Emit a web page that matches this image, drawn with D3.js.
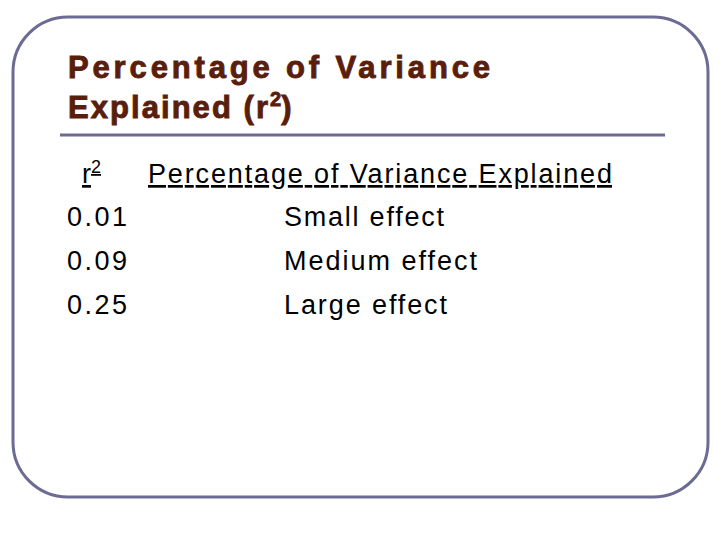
<!DOCTYPE html><html><head><meta charset="utf-8"><script src="https://cdn.jsdelivr.net/npm/d3@7"></script>
<style>body{margin:0;background:#fff}</style></head><body><script>
const values=["0.01","0.09","0.25"];
const labels=["Small effect","Medium effect","Large effect"];
const titleLines=["Percentage of Variance","Explained (r"];
const svg=d3.select("body").append("svg").attr("width",720).attr("height",540);
const ff="'Liberation Sans',Arial,sans-serif";
svg.append("rect").attr("x",13).attr("y",17).attr("width",695).attr("height",480).attr("rx",55).attr("ry",55)
 .attr("fill","none").attr("stroke","#6b6b93").attr("stroke-width",3);
svg.append("line").attr("x1",60).attr("x2",665).attr("y1",135).attr("y2",135).attr("stroke","#6b6b93").attr("stroke-width",3);
const tc="#5a1e0c";
svg.append("text").attr("x",68).attr("y",78).attr("font-family",ff).attr("font-weight",900).attr("font-size",31).attr("fill",tc).attr("stroke",tc).attr("stroke-width",0.9).attr("textLength",422).attr("lengthAdjust","spacing").text(titleLines[0]);
const t2=svg.append("text").attr("x",68).attr("y",118).attr("font-family",ff).attr("font-weight",900).attr("font-size",31).attr("fill",tc).attr("stroke",tc).attr("stroke-width",0.9);
t2.append("tspan").attr("textLength",200).attr("lengthAdjust","spacing").text(titleLines[1]);
t2.append("tspan").attr("dy",-12).attr("font-size",20).text("2");
t2.append("tspan").attr("dy",12).text(")");
const h=svg.append("text").attr("x",82).attr("y",183).attr("font-family",ff).attr("font-size",27).attr("fill","#000").attr("text-decoration","underline");
h.append("tspan").text("r");
h.append("tspan").attr("dy",-10).attr("font-size",18).text("2");
svg.append("text").attr("x",148).attr("y",183).attr("font-family",ff).attr("font-size",27).attr("text-decoration","underline").attr("textLength",464).attr("lengthAdjust","spacing").text("Percentage of Variance Explained");
const lw=[160,193,163];
const y=d3.scalePoint().domain(values).range([226,314]);
values.forEach((v,i)=>{
 svg.append("text").attr("x",67).attr("y",y(v)).attr("font-family",ff).attr("font-size",27).attr("textLength",60).attr("lengthAdjust","spacing").text(v);
 svg.append("text").attr("x",284).attr("y",y(v)).attr("font-family",ff).attr("font-size",27).attr("textLength",lw[i]).attr("lengthAdjust","spacing").text(labels[i]);
});
</script></body></html>
